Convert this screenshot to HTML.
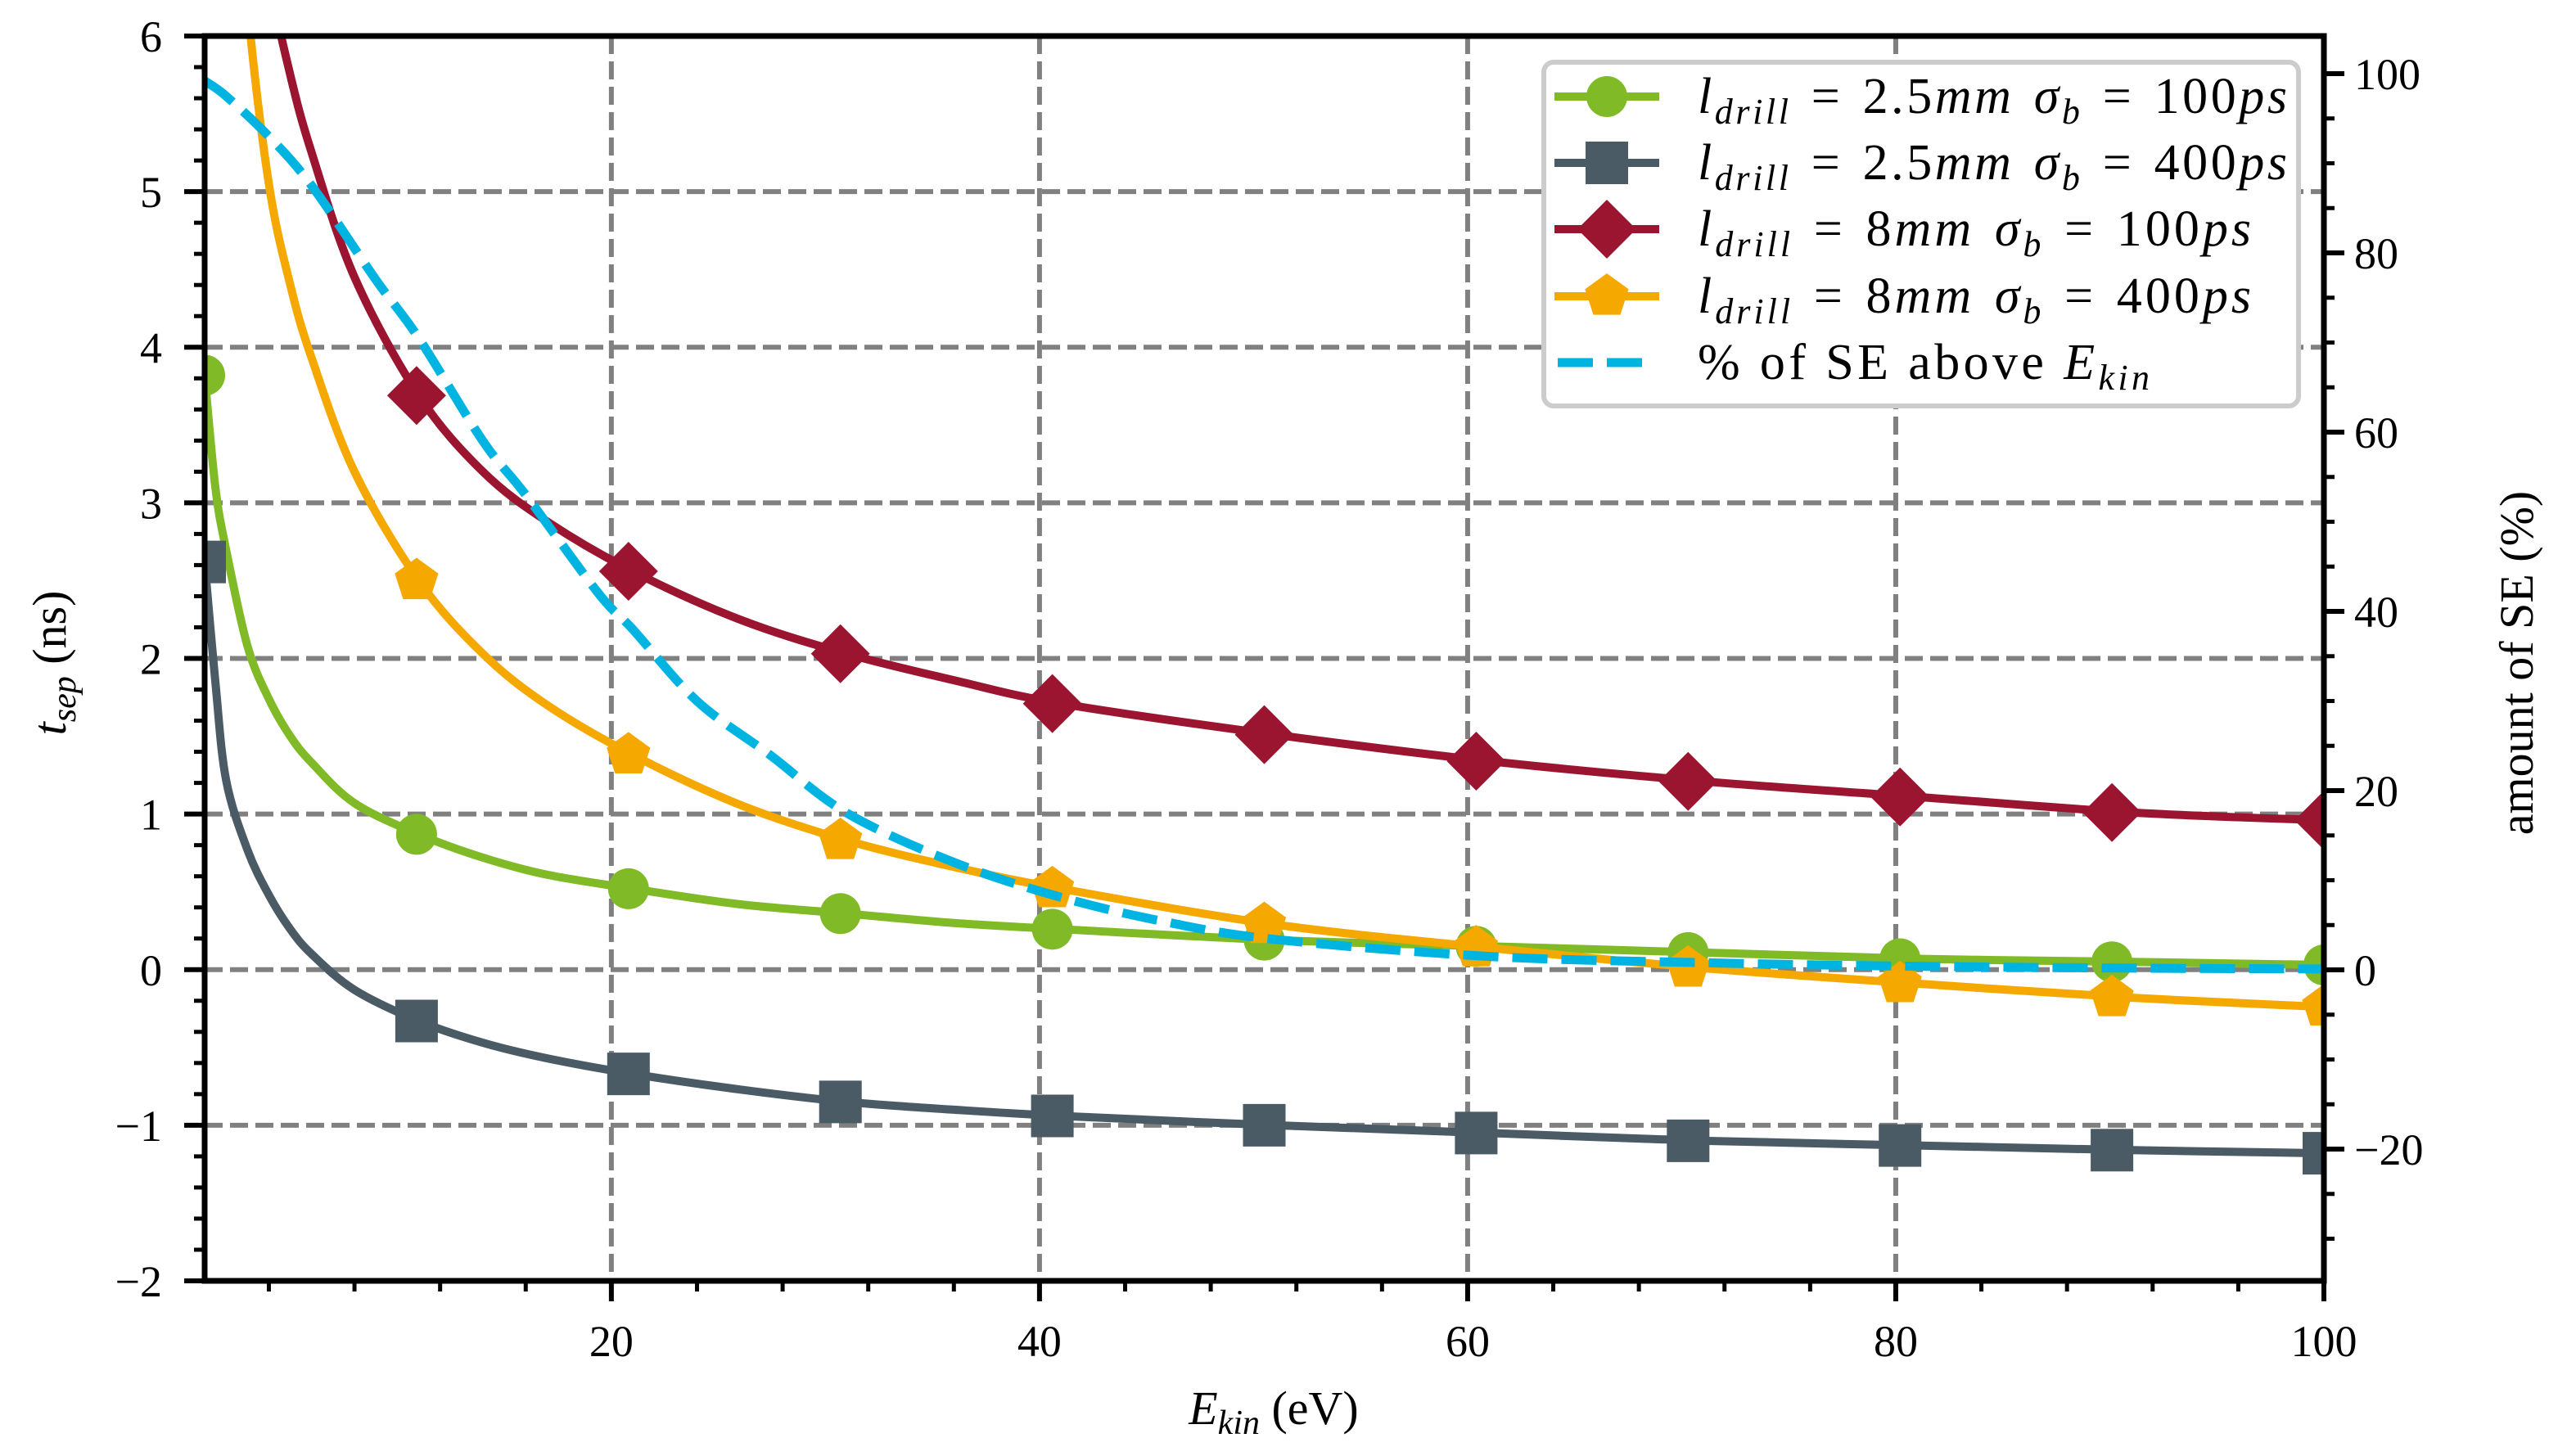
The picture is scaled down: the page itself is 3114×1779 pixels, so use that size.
<!DOCTYPE html>
<html><head><meta charset="utf-8"><style>
html,body{margin:0;padding:0;background:#fff;}
svg{display:block;font-family:"Liberation Serif","DejaVu Serif",serif;}
</style></head><body>
<svg id="chart" width="3114" height="1779" viewBox="0 0 3114 1779" xmlns="http://www.w3.org/2000/svg">
<defs><clipPath id="plotclip"><rect x="250" y="44" width="2589" height="1521"/></clipPath></defs>
<rect x="0" y="0" width="3114" height="1779" fill="#fff"/>
<g id="grid"></g>
<g id="series" clip-path="url(#plotclip)"></g>
<g id="axes"></g>
<text x="1556" y="1740" text-anchor="middle" font-size="58"><tspan font-style="italic">E</tspan><tspan font-style="italic" font-size="42" dy="12">kin</tspan><tspan dy="-12"> (eV)</tspan></text>
<text transform="translate(80,810) rotate(-90)" text-anchor="middle" font-size="58"><tspan font-style="italic">t</tspan><tspan font-style="italic" font-size="42" dy="12">sep</tspan><tspan dy="-12"> (ns)</tspan></text>
<text transform="translate(3094,810) rotate(-90)" text-anchor="middle" font-size="58">amount of SE (%)</text>
<g id="legend"></g>
</svg>
<script>
// ---- data ----
const markerX = [1, 10.9, 20.8, 30.7, 40.6, 50.5, 60.4, 70.3, 80.2, 90.1, 100];
const curveX = [1, 1.5, 2, 3, 4, 5, 6, 8, 11, 14, 17, 21, 26, 31, 36, 41, 51, 61, 71, 81, 91, 100];
const greenMarkers = [3.82, 0.87, 0.52, 0.36, 0.26, 0.19, 0.15, 0.11, 0.07, 0.05, 0.03];
const greenCurve = [3.82, 3.1, 2.7, 2.08, 1.74, 1.5, 1.33, 1.07, 0.87, 0.72, 0.61, 0.52, 0.42, 0.36, 0.30, 0.26, 0.19, 0.15, 0.11, 0.07, 0.05, 0.03];
const grayMarkers = [2.62, -0.33, -0.67, -0.85, -0.94, -1.0, -1.05, -1.10, -1.13, -1.16, -1.18];
const grayCurve = [2.62, 1.85, 1.22, 0.77, 0.48, 0.26, 0.1, -0.13, -0.33, -0.47, -0.57, -0.67, -0.77, -0.85, -0.9, -0.94, -1.0, -1.05, -1.10, -1.13, -1.16, -1.18];
const redMarkers = [14, 3.69, 2.56, 2.03, 1.71, 1.51, 1.34, 1.21, 1.11, 1.01, 0.96];
const redCurve = [14, 11, 9.2, 7.4, 6.4, 5.75, 5.25, 4.45, 3.69, 3.2, 2.88, 2.56, 2.25, 2.03, 1.86, 1.71, 1.51, 1.34, 1.21, 1.11, 1.01, 0.96];
const orangeMarkers = [11, 2.50, 1.38, 0.83, 0.52, 0.29, 0.14, 0.01, -0.09, -0.18, -0.24];
const orangeCurve = [11, 9.2, 7.9, 6.2, 5.05, 4.4, 3.93, 3.2, 2.50, 2.03, 1.7, 1.38, 1.06, 0.83, 0.66, 0.52, 0.29, 0.14, 0.01, -0.09, -0.18, -0.24];
const seX = [1, 2, 4, 6, 9, 11, 14, 16, 19.4, 21, 24, 27.4, 31, 36, 41, 46, 51, 61, 71, 81, 91, 100];
const sePercent = [99.2, 97.5, 93, 87.5, 77, 70.5, 59, 53, 42, 38, 30, 24, 17.5, 12, 8.1, 5.3, 3.4, 1.5, 0.8, 0.4, 0.2, 0.1];
const xTicks = [20, 40, 60, 80, 100];
const yTicks = [-2, -1, 0, 1, 2, 3, 4, 5, 6];
const y2Ticks = [-20, 0, 20, 40, 60, 80, 100];

// ---- axes ----
const L=250,R=2839,T=44,B=1565;
const X0=1,X1=100,Y0=-2,Y1=6;
const Y2_0=-34.7, Y2_1=104.2;
const sx=v=>L+(v-X0)/(X1-X0)*(R-L);
const sy=v=>B-(v-Y0)/(Y1-Y0)*(B-T);
const sy2=v=>B-(v-Y2_0)/(Y2_1-Y2_0)*(B-T);
const NS="http://www.w3.org/2000/svg";
function mk(tag,attrs,parent){const e=document.createElementNS(NS,tag);for(const k in attrs)e.setAttribute(k,attrs[k]);parent.appendChild(e);return e;}

const grid=document.getElementById('grid');
xTicks.forEach(t=>{ if(t<X1){
  const g=mk('line',{x1:sx(t),x2:sx(t),y1:T,y2:B,stroke:'#808080','stroke-width':6,'stroke-dasharray':'22 9'},grid);
  
  
}});
yTicks.forEach(t=>{ if(t>Y0&&t<Y1){
  const g=mk('line',{x1:L,x2:R,y1:sy(t),y2:sy(t),stroke:'#808080','stroke-width':6,'stroke-dasharray':'22 9'},grid);
  
  
}});

function pathFrom(xs,ys,fx,fy){
  const p=xs.map((x,i)=>[fx(x),fy(ys[i])]);
  let d=`M${p[0][0]},${p[0][1]}`;
  for(let i=0;i<p.length-1;i++){
    const p0=p[i-1]||p[i],p1=p[i],p2=p[i+1],p3=p[i+2]||p2;
    const c1=[p1[0]+(p2[0]-p0[0])/6,p1[1]+(p2[1]-p0[1])/6];
    const c2=[p2[0]-(p3[0]-p1[0])/6,p2[1]-(p3[1]-p1[1])/6];
    d+=` C${c1[0]},${c1[1]} ${c2[0]},${c2[1]} ${p2[0]},${p2[1]}`;
  }
  return d;
}
function marker(shape,cx,cy,color,parent){
  let e;
  if(shape==='circle') e=mk('ellipse',{cx,cy,rx:25,ry:25,fill:color},parent);
  else if(shape==='square') e=mk('rect',{x:cx-26,y:cy-26,width:52,height:52,fill:color},parent);
  else if(shape==='diamond') e=mk('polygon',{points:`${cx},${cy-36} ${cx+36},${cy} ${cx},${cy+36} ${cx-36},${cy}`,fill:color},parent);
  else { const pts=[];for(let k=0;k<5;k++){const a=-Math.PI/2+k*2*Math.PI/5;pts.push(`${cx+28*Math.cos(a)},${cy+28*Math.sin(a)}`);} e=mk('polygon',{points:pts.join(' '),fill:color},parent);}
  return e;
}
const seriesG=document.getElementById('series');
const seriesDefs=[
  {name:'green-2.5mm-100ps',color:'#80ba27',shape:'circle',curve:greenCurve,marks:greenMarkers},
  {name:'gray-2.5mm-400ps',color:'#4a5b66',shape:'square',curve:grayCurve,marks:grayMarkers},
  {name:'red-8mm-100ps',color:'#9b1530',shape:'diamond',curve:redCurve,marks:redMarkers},
  {name:'orange-8mm-400ps',color:'#f5a800',shape:'pentagon',curve:orangeCurve,marks:orangeMarkers}
];
seriesDefs.forEach(s=>{
  const g=mk('g',{},seriesG);
  
  
  const p=mk('path',{d:pathFrom(curveX,s.curve,sx,sy),fill:'none',stroke:s.color,'stroke-width':10,'stroke-linejoin':'round'},g);
  
  
  markerX.forEach((x,i)=>{
    const m=marker(s.shape,sx(x),sy(s.marks[i]),s.color,g);
    
    
  });
});
const se=mk('path',{d:pathFrom(seX,sePercent,sx,sy2),fill:'none',stroke:'#00b4e1','stroke-width':11,'stroke-dasharray':'43 17'},seriesG);



const ax=document.getElementById('axes');
const frame=mk('rect',{x:L,y:T,width:R-L,height:B-T,fill:'none',stroke:'#000','stroke-width':7},ax);


for(let v=4;v<X1;v+=4){ if(v%20!==0) mk('line',{x1:sx(v),x2:sx(v),y1:B,y2:B+13,stroke:'#000','stroke-width':5},ax); }
xTicks.forEach(t=>{
  mk('line',{x1:sx(t),x2:sx(t),y1:B,y2:B+25,stroke:'#000','stroke-width':6},ax);
  const tx=mk('text',{x:sx(t),y:1657,'text-anchor':'middle','font-size':54},ax);
  tx.textContent=t;
  
  
});
for(let v=-1.8;v<6;v+=0.2){ const r=Math.round(v*10)/10; if(Math.abs(r-Math.round(r))>0.01) mk('line',{x1:L-13,x2:L,y1:sy(r),y2:sy(r),stroke:'#000','stroke-width':5},ax); }
yTicks.forEach(t=>{
  mk('line',{x1:L-25,x2:L,y1:sy(t),y2:sy(t),stroke:'#000','stroke-width':6},ax);
  const tx=mk('text',{x:198,y:sy(t)+19,'text-anchor':'end','font-size':54},ax);
  tx.textContent=t<0?'\u2212'+(-t):t;
  
  
});
for(let v=-30;v<=100;v+=5){ if(v%20!==0) mk('line',{x1:R,x2:R+13,y1:sy2(v),y2:sy2(v),stroke:'#000','stroke-width':5},ax); }
y2Ticks.forEach(t=>{
  mk('line',{x1:R,x2:R+25,y1:sy2(t),y2:sy2(t),stroke:'#000','stroke-width':6},ax);
  const tx=mk('text',{x:2876,y:sy2(t)+19,'text-anchor':'start','font-size':54},ax);
  tx.textContent=t<0?'\u2212'+(-t):t;
  
  
});

const lg=document.getElementById('legend');
const box=mk('rect',{x:1886,y:76,width:922,height:420,rx:12,fill:'#fff',stroke:'#cccccc','stroke-width':6},lg);


const legTexts=[['2.5','100'],['2.5','400'],['8','100'],['8','400']];
const legWidths=[720,720,676,676];
const rows=[118,199,280,362];
seriesDefs.forEach((s,i)=>{
  const g=mk('g',{},lg);
  
  
  mk('line',{x1:1899,x2:2027,y1:rows[i],y2:rows[i],stroke:s.color,'stroke-width':10},g);
  marker(s.shape,1963,rows[i],s.color,g);
  const t=mk('text',{x:2074,y:rows[i]+20,'font-size':62,textLength:legWidths[i],lengthAdjust:'spacing'},g);
  t.innerHTML=`<tspan font-style="italic">l</tspan><tspan font-style="italic" font-size="44" dy="13">drill</tspan><tspan dy="-13">&#8196;=&#8196;${legTexts[i][0]}</tspan><tspan font-style="italic">mm&#8196;σ</tspan><tspan font-style="italic" font-size="44" dy="13">b</tspan><tspan dy="-13">&#8196;=&#8196;${legTexts[i][1]}</tspan><tspan font-style="italic">ps</tspan>`;
});
const g5=mk('g',{},lg);


mk('line',{x1:1903,x2:2023,y1:443,y2:443,stroke:'#00b4e1','stroke-width':11,'stroke-dasharray':'43 17'},g5);
const t5=mk('text',{x:2074,y:463,'font-size':62,textLength:552,lengthAdjust:'spacing'},g5);
t5.innerHTML=`% of SE above <tspan font-style="italic">E</tspan><tspan font-style="italic" font-size="44" dy="13">kin</tspan>`;
</script>
</body></html>
